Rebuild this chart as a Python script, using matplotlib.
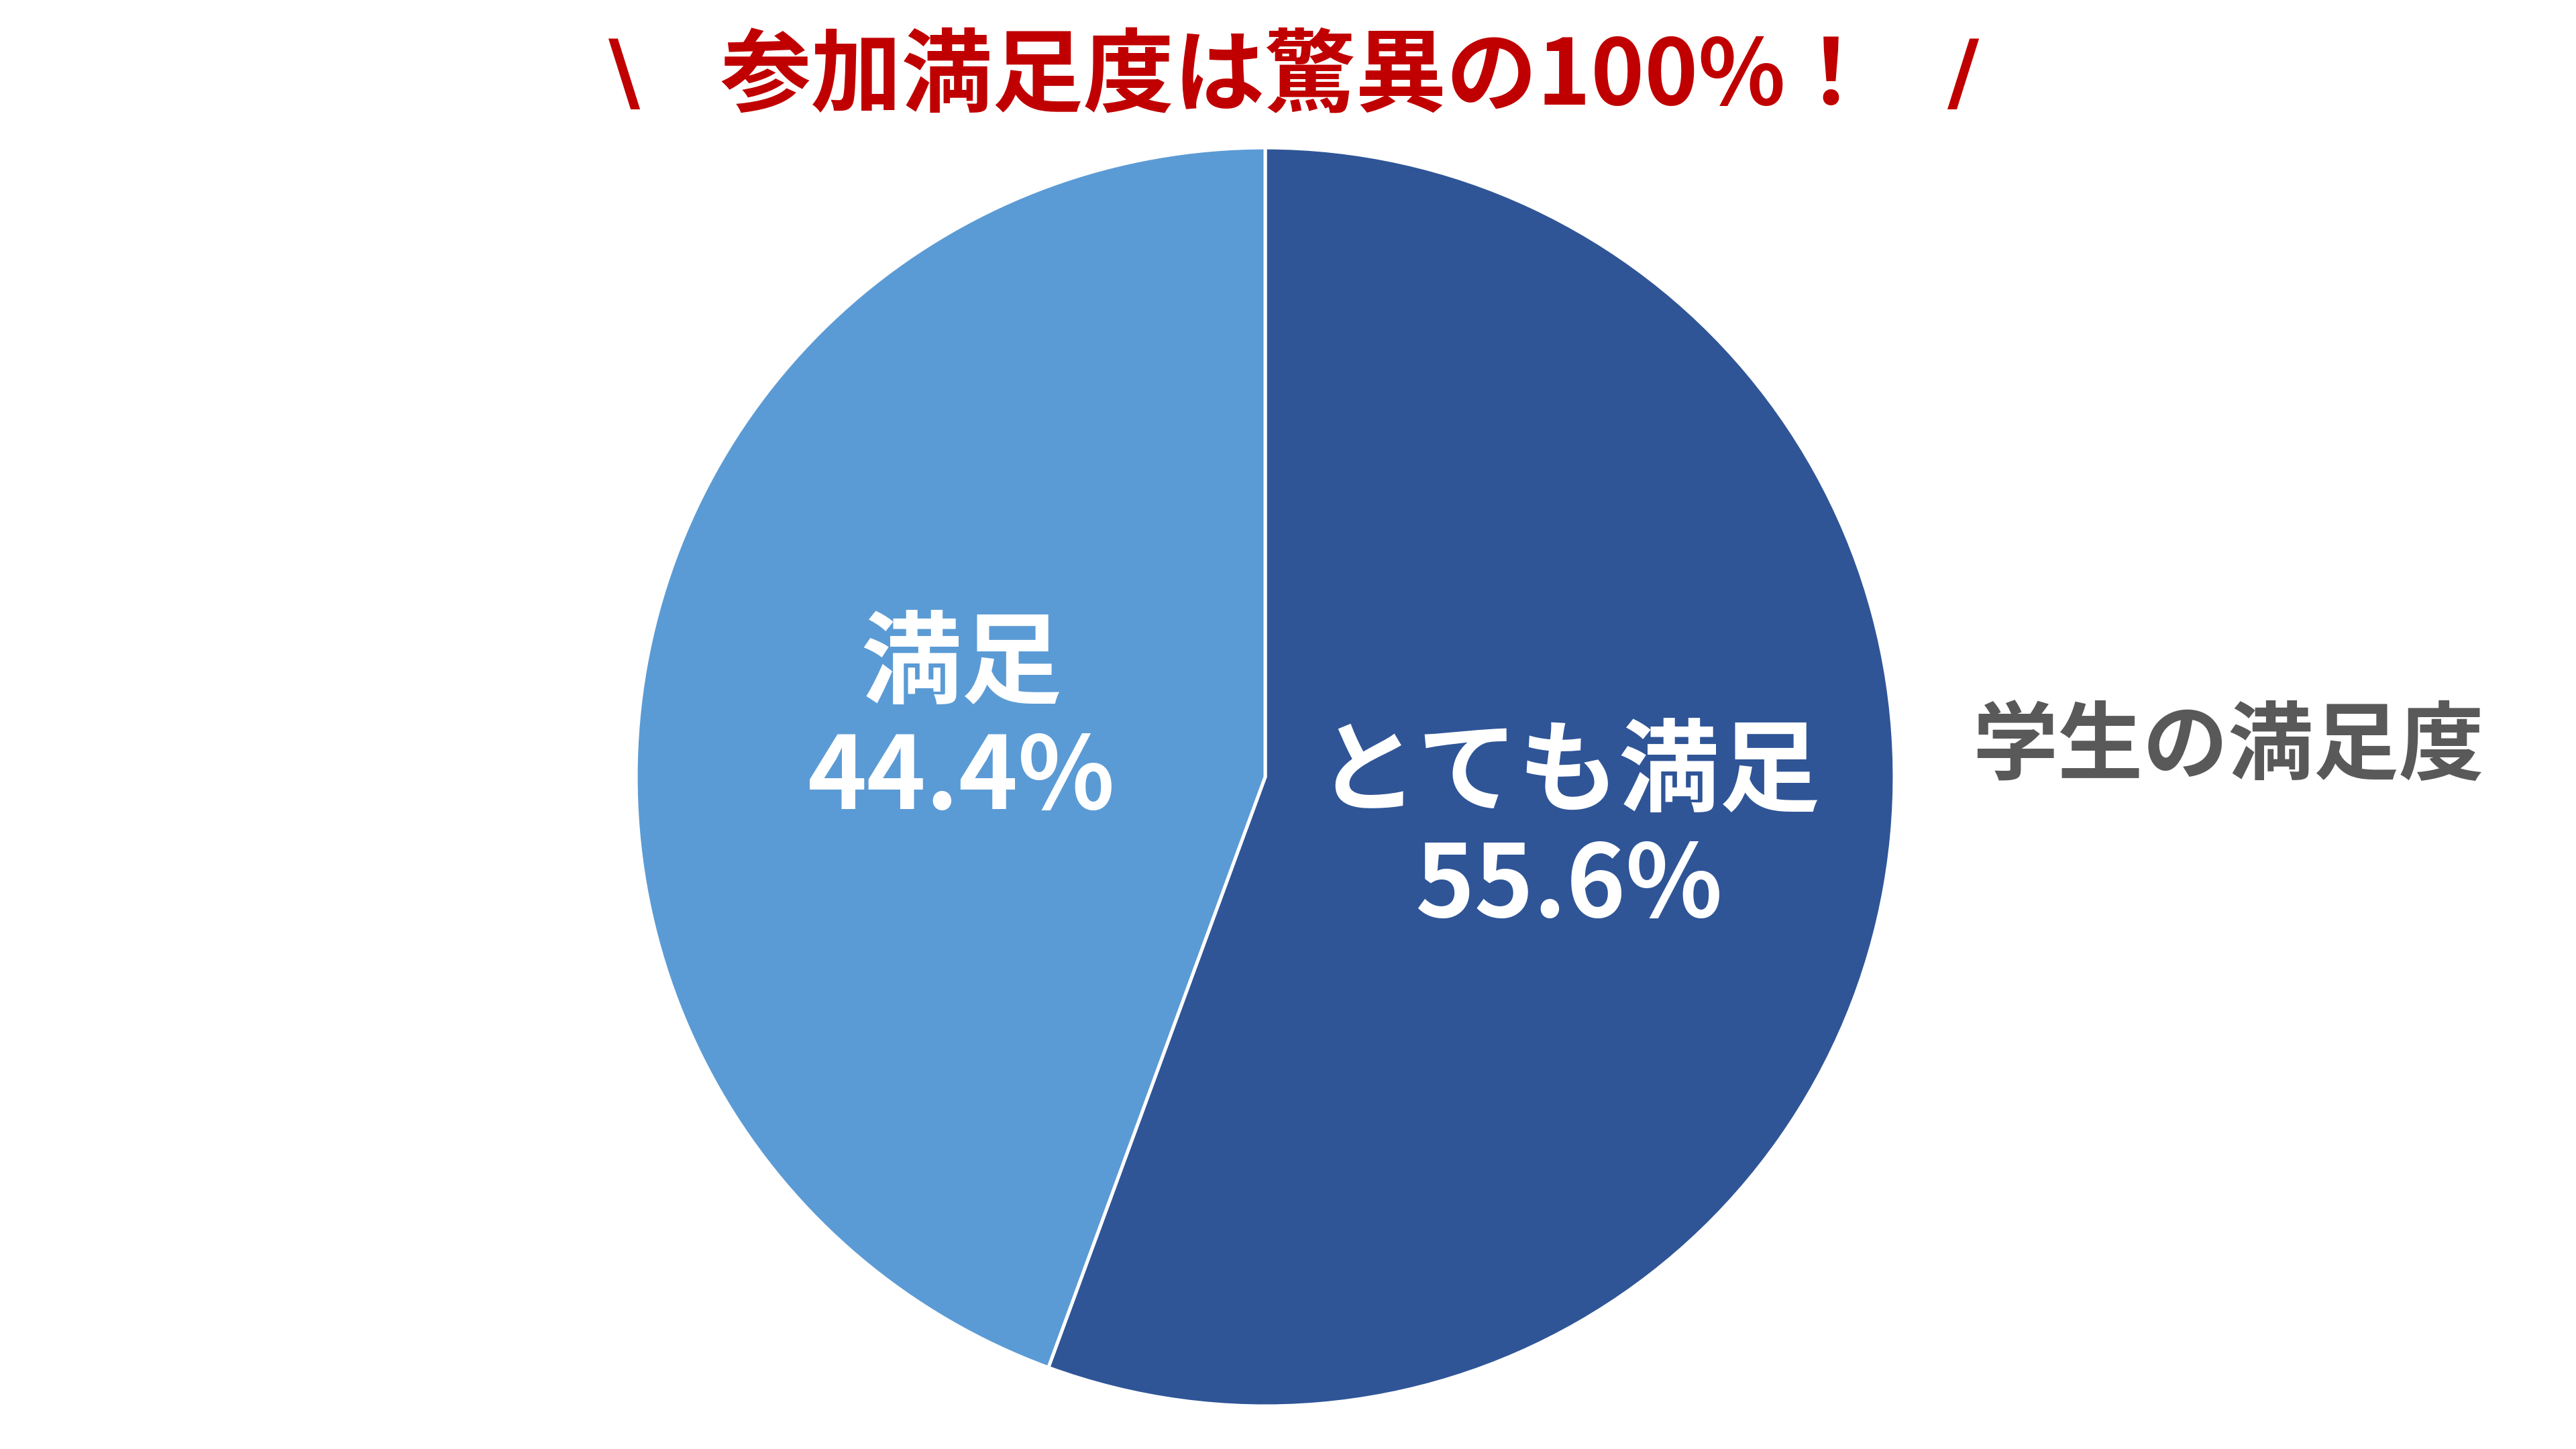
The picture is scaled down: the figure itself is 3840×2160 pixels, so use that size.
import matplotlib
matplotlib.use("Agg")
import matplotlib.pyplot as plt

plt.rcParams["font.family"] = ["Noto Sans CJK JP", "DejaVu Sans"]

# ====== データ ======
categories = ["とても満足", "満足"]
shares = [55.6, 44.4]
colors = ["#2F5597", "#5B9BD5"]

title_text = "参加満足度は驚異の100%！"
title_marks = ["\\", "/"]
series_name = "学生の満足度"

# ====== 描画 ======
fig = plt.figure(figsize=(12.8, 7.2), dpi=300)
ax = fig.add_axes([0.2469, 0.0296, 0.4885, 0.8685])

wedges, texts, autotexts = ax.pie(
    shares, colors=colors, startangle=90, counterclock=False,
    radius=1.0, autopct="%.1f%%", pctdistance=0.49,
    wedgeprops=dict(edgecolor="white", linewidth=1.2),
)
for t, name, v in zip(autotexts, categories, shares):
    t.set_text(f"{name}\n{v:.1f}%")
    t.set_color("white")
    t.set_fontsize(36)
    t.set_fontweight("bold")
    t.set_linespacing(1.15)
    t.set_ha("center")
    t.set_va("center")

ax.set_xlim(-1, 1)
ax.set_ylim(-1, 1)
ax.set_aspect("equal")
ax.axis("off")

# タイトル(左右の飾り線は別テキスト)
fig.text(0.504, 0.9465, title_text, color="#C00000", fontsize=32.5,
         fontweight="bold", ha="center", va="center")
for xpos, mark in zip([0.2423, 0.762], title_marks):
    fig.text(xpos, 0.9465, mark, color="#C00000", fontsize=31,
             fontweight="bold", ha="center", va="center",
             family=["DejaVu Sans Condensed", "DejaVu Sans"])

fig.text(0.865, 0.484, series_name, color="#595959", fontsize=30.5,
         fontweight="bold", ha="center", va="center")

fig.savefig("out.png", dpi=300, facecolor="white")
plt.close(fig)
